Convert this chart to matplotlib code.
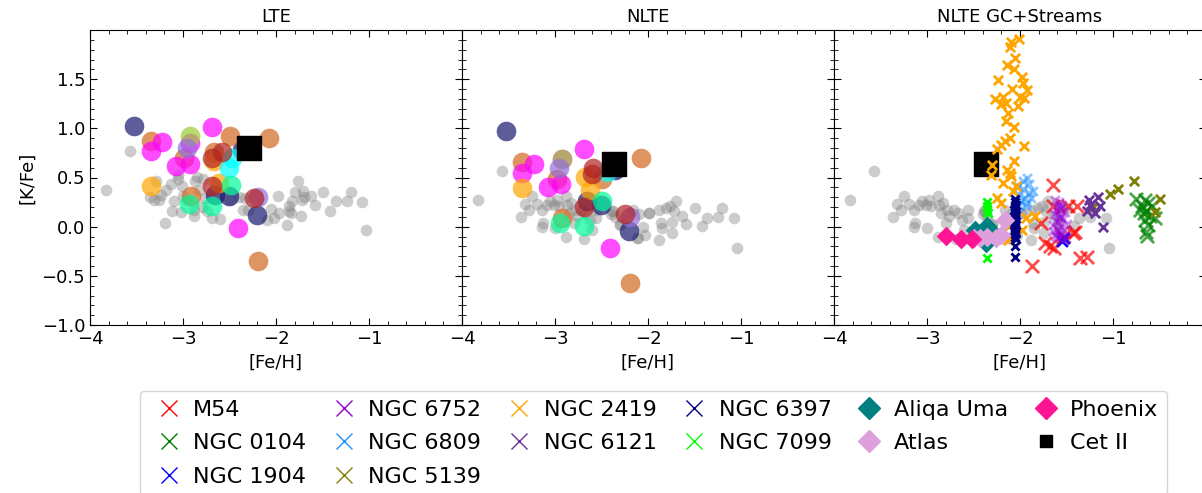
import matplotlib
matplotlib.use("Agg")
import matplotlib.pyplot as plt
from matplotlib.lines import Line2D
from matplotlib.ticker import MultipleLocator

# ---- halo field stars (grey) ----
halo_lte_feh = [-3.83, -3.57, -3.29, -3.35, -3.31, -3.24, -3.18, -3.13, -3.10, -3.12, -3.19,
                -3.05, -3.05, -3.01, -3.00, -3.02, -2.96, -2.88, -2.87, -2.85, -2.83, -2.80,
                -2.88, -2.76, -2.74, -2.69, -2.60, -2.49, -2.40, -2.36, -2.79, -3.26,
                -1.76, -1.80, -1.71, -1.70, -1.72, -1.83, -1.86, -1.86, -1.88, -1.84, -1.73,
                -1.98, -2.05, -1.97, -2.02, -2.10, -2.30, -2.33, -1.58, -1.49, -1.42, -1.36,
                -1.24, -1.19, -1.07, -1.03, -1.62]
halo_lte_kfe = [0.37, 0.77, 0.46, 0.30, 0.27, 0.32, 0.37, 0.43, 0.26, 0.16, 0.04,
                0.53, 0.48, 0.41, 0.31, 0.15, 0.27, 0.17, 0.46, 0.51, 0.37, 0.20,
                0.11, 0.29, 0.16, 0.09, 0.08, 0.27, 0.30, 0.17, 0.48, 0.27,
                0.46, 0.35, 0.36, 0.30, 0.27, 0.26, 0.21, 0.16, 0.02, 0.14, 0.11,
                0.31, 0.18, 0.14, 0.09, 0.07, 0.17, 0.29, 0.22, 0.35, 0.16, 0.26,
                0.26, 0.35, 0.25, -0.03, 0.31]

halo_nlte_feh = [-3.83, -3.57, -3.37, -3.32, -3.28, -3.25, -3.19, -3.14, -3.13, -3.09, -3.05,
                 -3.01, -2.98, -2.96, -3.00, -2.88, -2.87, -2.83, -2.85, -2.88, -2.78, -2.76,
                 -2.71, -2.67, -2.69, -2.60, -2.56, -2.56, -2.40, -2.38, -2.80, -3.14, -2.62,
                 -2.39, -2.30, -2.16, -2.10, -1.99, -2.05, -2.12, -2.03, -1.88, -1.86, -1.85,
                 -1.88, -1.81, -1.76, -1.70, -1.72, -1.74, -1.74, -1.63, -1.59, -1.50, -1.42,
                 -1.37, -1.25, -1.20, -1.08, -1.04, -2.35, -2.30, -2.11, -1.99]
halo_nlte_kfe = [0.27, 0.57, 0.10, 0.23, 0.17, 0.31, 0.23, 0.17, 0.04, 0.22, 0.26,
                 0.22, 0.27, 0.21, -0.01, 0.31, 0.22, 0.24, 0.14, -0.11, 0.17, 0.11,
                 0.17, 0.14, -0.13, -0.03, 0.09, 0.17, 0.13, 0.16, 0.04, 0.00, 0.07,
                 0.16, 0.02, 0.17, 0.13, 0.14, 0.00, -0.12, -0.08, 0.17, 0.04, -0.01,
                 -0.14, 0.19, 0.21, 0.26, 0.16, 0.05, -0.06, 0.11, 0.03, 0.19, 0.01,
                 0.09, 0.10, 0.19, 0.09, -0.22, 0.10, 0.03, -0.12, 0.14]

# ---- literature UFD / other stars (coloured circles): LTE and NLTE ----
lit_colors = ["midnightblue", "chocolate", "magenta", "yellowgreen", "mediumpurple",
              "orange", "cyan", "mediumspringgreen", "firebrick"]
lit_lte_feh = [[-3.53, -2.66, -2.51, -2.20, -2.37],
               [-3.34, -2.50, -2.08, -2.67, -2.99, -2.91, -2.19],
               [-2.69, -3.23, -3.34, -2.92, -3.08, -2.93, -2.41],
               [-2.92],
               [-2.96, -2.19],
               [-3.34, -2.67, -2.61],
               [-2.47, -2.51],
               [-2.94, -2.69, -2.48],
               [-2.58, -2.69, -2.69, -2.24]]
lit_lte_kfe = [[1.02, 0.32, 0.31, 0.12, 0.78],
               [0.87, 0.92, 0.90, 0.76, 0.70, 0.31, -0.35],
               [1.01, 0.86, 0.77, 0.85, 0.62, 0.64, -0.01],
               [0.92],
               [0.80, 0.30],
               [0.41, 0.67, 0.44],
               [0.70, 0.60],
               [0.23, 0.21, 0.42],
               [0.76, 0.70, 0.41, 0.29]]
lit_nlte_feh = [[-3.53, -2.20, -2.51, -2.66, -2.35],
                [-3.35, -2.08, -2.19, -2.98, -2.92, -2.50],
                [-2.69, -3.23, -3.35, -2.92, -3.08, -2.94, -2.41],
                [-2.92],
                [-2.96, -2.19],
                [-3.35, -2.68, -2.62],
                [-2.44],
                [-2.95, -2.69, -2.50],
                [-2.59, -2.69, -2.25, -2.60]]
lit_nlte_kfe = [[0.97, -0.04, 0.22, 0.26, 0.58],
                [0.66, 0.70, -0.57, 0.48, 0.09, 0.48],
                [0.79, 0.64, 0.55, 0.69, 0.40, 0.43, -0.22],
                [0.69],
                [0.60, 0.10],
                [0.39, 0.51, 0.37],
                [0.56],
                [0.04, 0.01, 0.26],
                [0.60, 0.20, 0.13, 0.54]]

# ---- Cet II ----
cet_lte = (-2.29, 0.80)
cet_nlte = (-2.37, 0.64)

# ---- globular clusters (NLTE) ----
gc_names = ["M54", "NGC 0104", "NGC 1904", "NGC 6752", "NGC 6809", "NGC 5139",
            "NGC 2419", "NGC 6121", "NGC 6397", "NGC 7099"]
gc_colors = ["red", "green", "blue", "darkviolet", "dodgerblue", "olive",
             "orange", "rebeccapurple", "navy", "lime"]
gc_feh = [
    [-1.65, -1.48, -1.39, -1.43, -1.41, -1.73, -1.68, -1.63, -1.36, -1.28, -1.87, -1.77, -1.54, -1.65],
    [-0.75, -0.66, -0.62, -0.71, -0.67, -0.64, -0.60, -0.66, -0.62, -0.64, -0.63, -0.58, -0.55, -0.69],
    [-1.55, -1.53],
    [-1.62, -1.58, -1.55, -1.60, -1.57, -1.52, -1.63, -1.59, -1.56, -1.54, -1.61, -1.58, -1.50, -1.65, -1.57,
     -1.60, -1.53, -1.59, -1.55, -1.62, -1.56, -1.58, -1.51, -1.64, -1.57, -1.60, -1.54, -1.58, -1.61, -1.56],
    [-1.93, -2.02, -1.97, -1.90, -2.01, -1.95, -1.88, -1.99, -1.92, -2.04, -1.86, -1.94, -2.01, -1.90, -1.97],
    [-1.03, -0.95, -0.77, -0.49, -0.55, -1.21],
    [-2.01, -2.10, -2.11, -2.05, -2.14, -2.06, -1.98, -2.24, -1.97, -1.93, -2.09, -2.27, -2.18, -2.20, -2.15,
     -2.00, -1.96, -2.02, -2.13, -2.15, -2.06, -2.11, -2.16, -2.20, -2.25, -1.96, -2.06, -2.30, -2.31, -2.14,
     -2.11, -2.18, -2.10, -2.07, -2.04, -2.25, -2.20, -1.94, -1.84, -2.12, -2.13, -1.98],
    [-1.26, -1.16, -1.14, -1.28, -1.19, -1.11, -1.25],
    [-2.05, -2.05, -2.04, -2.05, -2.06, -2.05, -2.04, -2.05, -2.05, -2.06, -2.05, -2.04, -2.05, -2.05, -2.06,
     -2.05, -2.05, -2.04, -2.05, -2.05],
    [-2.35, -2.35, -2.35, -2.34, -2.35],
]
gc_kfe = [
    [0.42, 0.21, 0.21, -0.06, -0.05, -0.17, -0.20, -0.22, -0.32, -0.31, -0.40, 0.04, -0.10, 0.21],
    [0.28, 0.27, 0.24, 0.17, 0.14, 0.16, 0.11, 0.07, 0.02, -0.05, -0.09, 0.21, 0.09, 0.21],
    [-0.15, -0.12],
    [0.27, 0.25, 0.22, 0.20, 0.18, 0.15, 0.13, 0.12, 0.10, 0.08, 0.06, 0.05, 0.03, 0.02, 0.00,
     -0.02, -0.03, -0.05, -0.06, -0.08, -0.09, -0.10, -0.12, -0.04, 0.09, 0.16, -0.14, 0.22, -0.11, 0.19],
    [0.49, 0.41, 0.38, 0.34, 0.32, 0.29, 0.29, 0.26, 0.24, 0.27, 0.36, 0.21, 0.21, 0.43, 0.46],
    [0.33, 0.38, 0.46, 0.28, 0.15, 0.20],
    [1.91, 1.88, 1.83, 1.72, 1.64, 1.60, 1.52, 1.49, 1.46, 1.39, 1.40, 1.30, 1.32, 1.25, 1.26,
     1.32, 1.31, 1.23, 1.16, 1.07, 1.01, 0.90, 0.87, 0.83, 0.79, 0.82, 0.67, 0.63, 0.53, 0.58,
     0.55, 0.44, 0.52, 0.36, 0.41, 0.29, 0.24, 0.09, 0.11, 0.01, -0.14, -0.03],
    [0.27, 0.30, 0.21, 0.16, 0.14, 0.00, 0.22],
    [0.28, 0.25, 0.22, 0.20, 0.17, 0.15, 0.12, 0.10, 0.08, 0.06, 0.04, 0.02, 0.00, -0.02, -0.04,
     -0.07, -0.10, -0.13, -0.20, -0.31],
    [0.25, 0.21, 0.17, 0.14, -0.32],
]
gc_size = [90, 90, 60, 40, 40, 45, 45, 45, 35, 35]
gc_alpha = [0.7, 0.7, 1.0, 0.4, 0.5, 1.0, 1.0, 1.0, 1.0, 1.0]

# ---- stellar streams (NLTE) ----
stream_names = ["Aliqa Uma", "Atlas", "Phoenix"]
stream_colors = ["teal", "plum", "deeppink"]
stream_feh = [[-2.48, -2.35, -2.31, -2.37],
              [-2.16, -2.20, -2.26, -2.36, -2.43, -2.50],
              [-2.80, -2.63, -2.52]]
stream_kfe = [[-0.03, 0.01, -0.04, -0.17],
              [0.07, -0.08, -0.12, -0.10, -0.12, -0.12],
              [-0.09, -0.13, -0.13]]

plt.rcParams["font.size"] = 13

fig = plt.figure(figsize=(12.02, 4.93), dpi=100)
W, H = 1202, 493
axes = []
for i in range(3):
    left = 90 + i * 372
    ax = fig.add_axes([left / W, (H - 325) / H, 372 / W, 295 / H],
                      sharey=axes[0] if axes else None)
    axes.append(ax)

for ax, title in zip(axes, ["LTE", "NLTE", "NLTE GC+Streams"]):
    ax.set_xlim(-4, 0)
    ax.set_ylim(-1, 2)
    ax.set_xticks([-4, -3, -2, -1])
    ax.set_yticks([-1.0, -0.5, 0.0, 0.5, 1.0, 1.5])
    ax.xaxis.set_minor_locator(MultipleLocator(0.2))
    ax.yaxis.set_minor_locator(MultipleLocator(0.1))
    ax.tick_params(which="both", direction="in", top=True, right=True, labelsize=13)
    ax.tick_params(which="major", length=5)
    ax.tick_params(which="minor", length=3)
    ax.set_title(title, fontsize=13)
    ax.set_xlabel("[Fe/H]", fontsize=13)
axes[0].set_ylabel("[K/Fe]", fontsize=13)
for ax in axes[1:]:
    ax.tick_params(labelleft=False)

# LTE panel
ax = axes[0]
ax.scatter(halo_lte_feh, halo_lte_kfe, s=70, color="grey", alpha=0.4, lw=0, zorder=1)
for c, xs, ys in zip(lit_colors, lit_lte_feh, lit_lte_kfe):
    ax.scatter(xs, ys, s=200, color=c, alpha=0.7, lw=0, zorder=2)
ax.scatter([cet_lte[0]], [cet_lte[1]], s=290, marker="s", color="black", zorder=5)

# NLTE panel
ax = axes[1]
ax.scatter(halo_nlte_feh, halo_nlte_kfe, s=70, color="grey", alpha=0.4, lw=0, zorder=1)
for c, xs, ys in zip(lit_colors, lit_nlte_feh, lit_nlte_kfe):
    ax.scatter(xs, ys, s=200, color=c, alpha=0.7, lw=0, zorder=2)
ax.scatter([cet_nlte[0]], [cet_nlte[1]], s=290, marker="s", color="black", zorder=5)

# NLTE GC + streams panel
ax = axes[2]
ax.scatter(halo_nlte_feh, halo_nlte_kfe, s=70, color="grey", alpha=0.4, lw=0, zorder=1)
ax.scatter([cet_nlte[0]], [cet_nlte[1]], s=290, marker="s", color="black", zorder=2)
for c, xs, ys, s, a in zip(gc_colors, gc_feh, gc_kfe, gc_size, gc_alpha):
    ax.scatter(xs, ys, s=s, marker="x", color=c, alpha=a, linewidths=2, zorder=3)
for c, xs, ys in zip(stream_colors, stream_feh, stream_kfe):
    ax.scatter(xs, ys, s=100, marker="D", color=c, lw=0, zorder=4)

handles = [Line2D([], [], ls="none", marker="x", color=c, markersize=12, mew=1)
           for c in gc_colors]
handles += [Line2D([], [], ls="none", marker="D", color=c, markersize=11) for c in stream_colors]
handles.append(Line2D([], [], ls="none", marker="s", color="black", markersize=9))
labels = gc_names + stream_names + ["Cet II"]
fig.legend(handles, labels, loc="upper center", bbox_to_anchor=(0.5437, 0.207),
           ncol=6, fontsize=16, handlelength=1.8, handletextpad=0.2, columnspacing=0.8,
           labelspacing=0.6, borderpad=0.4, borderaxespad=0)

fig.savefig("out.png", dpi=100)
